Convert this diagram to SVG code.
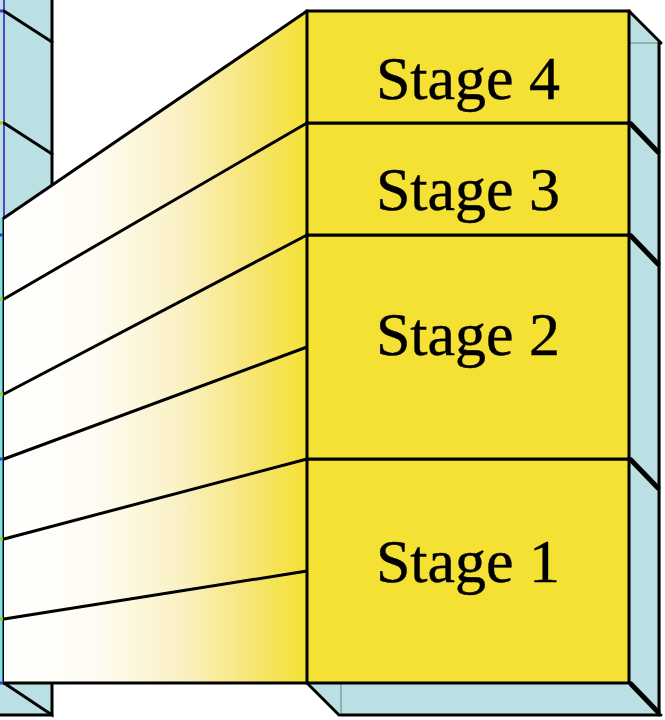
<svg xmlns="http://www.w3.org/2000/svg" width="665" height="720" viewBox="0 0 665 720">
  <defs>
    <linearGradient id="fanFill" gradientUnits="userSpaceOnUse" x1="4" y1="0" x2="307" y2="0">
      <stop offset="0" stop-color="#FFFFFF"/>
      <stop offset="0.3" stop-color="#FEFCF3"/>
      <stop offset="0.6" stop-color="#FAF0C0"/>
      <stop offset="0.85" stop-color="#F6E468"/>
      <stop offset="1" stop-color="#F5E133"/>
    </linearGradient>
    <style>
      .face { fill: #BBE0E3; }
      .edge { fill: none; stroke: #000; stroke-width: 3; stroke-linecap: round; }
      .thin { fill: none; stroke: #7A8C8E; stroke-width: 1.2; }
      .heavy { fill: none; stroke: #000; stroke-width: 5; stroke-linecap: round; }
      .stage { fill: #F5E133; stroke: #000; stroke-width: 3; }
      .label { font-family: "Liberation Serif", "Times New Roman", serif; font-size: 62px; fill: #000; text-anchor: middle; stroke: #000; stroke-width: 0.4; }
      .tickG { stroke: #A8C800; stroke-width: 3; }
      .tickB { stroke: #3A3AD0; stroke-width: 3; }
    </style>
  </defs>

  <!-- back column on the left -->
  <g id="left-column">
    <polygon class="face" points="0,0 52,0 52,185 4,218 0,218"/>
    <rect class="face" x="0" y="683" width="52" height="32"/>
    <rect x="0" y="218" width="4" height="465" fill="#7FE0E6"/>
    <line x1="4" y1="0" x2="4" y2="218" stroke="#4A4AC8" stroke-width="2"/>
    <line class="edge" x1="52" y1="0" x2="52" y2="185"/>
    <line class="edge" x1="4" y1="11" x2="52" y2="42"/>
    <line class="edge" x1="4" y1="123" x2="52" y2="154"/>
    <line class="edge" x1="4" y1="218" x2="4" y2="683"/>
    <path class="edge" d="M4 683 L52 715 L52 683"/>
    <line class="edge" x1="0" y1="715" x2="52" y2="715"/>
  </g>

  <!-- fan of stage boundaries spreading out to the right -->
  <g id="fan">
    <polygon points="4,218 307,11 307,683 4,683" fill="url(#fanFill)"/>
  </g>

  <g id="connectors">
    <line class="edge" x1="4" y1="218" x2="307" y2="11"/>
    <line class="edge" x1="4" y1="299" x2="307" y2="123"/>
    <line class="edge" x1="4" y1="394" x2="307" y2="235"/>
    <line class="edge" x1="4" y1="459" x2="307" y2="347"/>
    <line class="edge" x1="4" y1="539" x2="307" y2="459"/>
    <line class="edge" x1="4" y1="619" x2="307" y2="571"/>
    <line class="edge" x1="4" y1="683" x2="307" y2="683"/>
    <!-- small end marks on the left edge -->
    <line class="tickB" x1="0" y1="11" x2="3" y2="11"/>
    <line class="tickG" x1="0" y1="123" x2="3" y2="123"/>
    <line class="tickB" x1="0" y1="235" x2="3" y2="235"/>
    <line class="tickG" x1="0" y1="299" x2="3" y2="299"/>
    <line class="tickG" x1="0" y1="394" x2="3" y2="394"/>
    <line class="tickB" x1="0" y1="459" x2="3" y2="459"/>
    <line class="tickG" x1="0" y1="539" x2="3" y2="539"/>
    <line class="tickG" x1="0" y1="619" x2="3" y2="619"/>
    <line class="tickB" x1="0" y1="683" x2="3" y2="683"/>
  </g>

  <!-- side and bottom faces of the stack -->
  <g id="stack-faces">
    <polygon class="face" points="629,11 661,43 661,715 629,683"/>
    <polygon class="face" points="307,683 339,715 661,715 629,683"/>
    <line class="thin" x1="629" y1="43" x2="661" y2="43"/>
    <line class="thin" x1="341" y1="683" x2="341" y2="715"/>
    <line class="edge" x1="629" y1="11" x2="661" y2="43"/>
    <line class="edge" x1="659" y1="43" x2="659" y2="715"/>
    <line class="edge" x1="307" y1="683" x2="339" y2="715"/>
    <line class="edge" x1="341" y1="715" x2="661" y2="715"/>
    <line class="heavy" x1="631" y1="124" x2="658" y2="152"/>
    <line class="heavy" x1="631" y1="236" x2="658" y2="264"/>
    <line class="heavy" x1="631" y1="460" x2="658" y2="488"/>
    <line class="heavy" x1="631" y1="684" x2="658" y2="712"/>
  </g>

  <g id="stage1">
    <rect class="stage" x="307" y="459" width="322" height="224"/>
    <text class="label" x="468" y="582">Stage 1</text>
  </g>
  <g id="stage2">
    <rect class="stage" x="307" y="235" width="322" height="224"/>
    <text class="label" x="468" y="355">Stage 2</text>
  </g>
  <g id="stage3">
    <rect class="stage" x="307" y="123" width="322" height="112"/>
    <text class="label" x="468" y="210">Stage 3</text>
  </g>
  <g id="stage4">
    <rect class="stage" x="307" y="11" width="322" height="112"/>
    <text class="label" x="468" y="99">Stage 4</text>
  </g>
</svg>
